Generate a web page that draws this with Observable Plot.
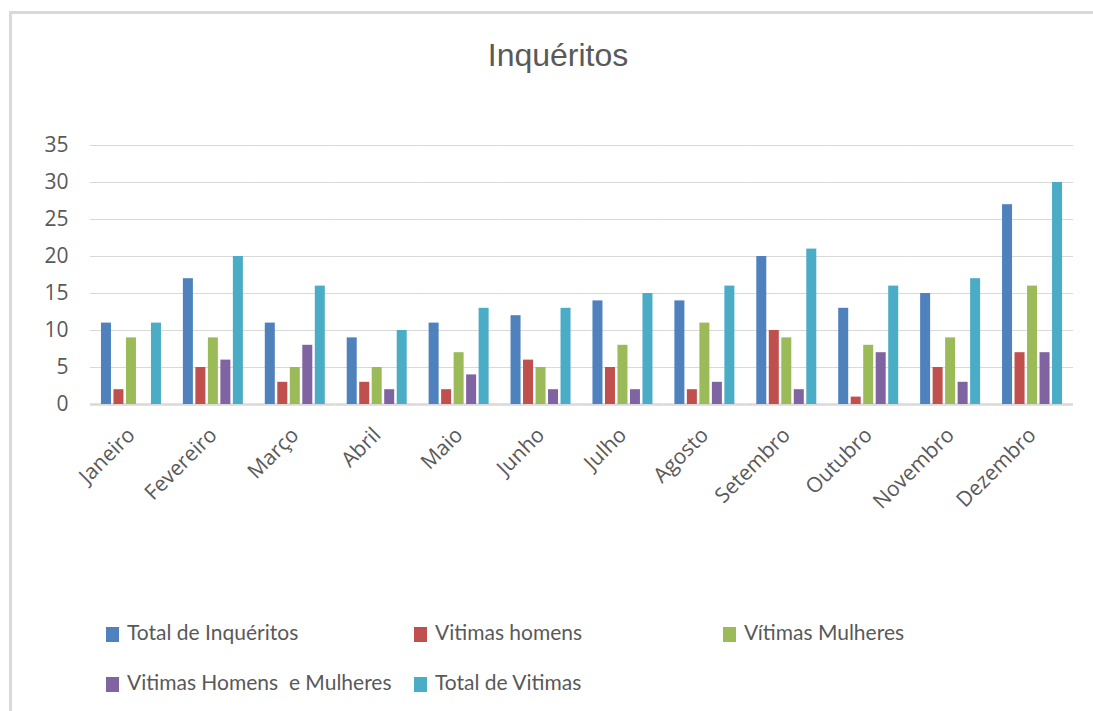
<!DOCTYPE html>
<html>
<head>
<meta charset="utf-8">
<script src="https://cdn.jsdelivr.net/npm/d3@7"></script>
<script src="https://cdn.jsdelivr.net/npm/@observablehq/plot@0.6"></script>
<style>
  html, body { margin: 0; padding: 0; background: #fff; overflow: hidden; }
  #frame { position: absolute; left: 9px; top: 11px; width: 1200px; height: 800px;
           border: 3px solid #d9d9d9; box-sizing: border-box; }
  #chart { position: absolute; left: 0; top: 0; }
  #title { position: absolute; left: 0; top: 39px; width: 1116px; text-align: center;
           font: 32px/32px "Liberation Sans", Arial, sans-serif; color: #595959; }
  .item { position: absolute; height: 21px; }
  .swatch { position: absolute; left: 0; top: 6px; width: 13px; height: 15px; }
  .label { position: absolute; left: 21px; top: 0; white-space: pre;
           font: 21px/21px Lato, "Open Sans", sans-serif; color: #595959; }
</style>
</head>
<body>
<div id="frame"></div>
<div id="chart"></div>
<div id="title">Inquéritos</div>
<div id="legend"></div>
<script>
// Months on the category axis
const months = ["Janeiro", "Fevereiro", "Março", "Abril", "Maio", "Junho",
                "Julho", "Agosto", "Setembro", "Outubro", "Novembro", "Dezembro"];

// Series names, as shown in the legend
const series = ["Total de Inquéritos", "Vitimas homens", "Vítimas Mulheres",
                "Vitimas Homens  e Mulheres", "Total de Vitimas"];

// Monthly values per series
const totalInqueritos       = [11, 17, 11, 9, 11, 12, 14, 14, 20, 13, 15, 27];
const vitimasHomens         = [2, 5, 3, 3, 2, 6, 5, 2, 10, 1, 5, 7];
const vitimasMulheres       = [9, 9, 5, 5, 7, 5, 8, 11, 9, 8, 9, 16];
const vitimasHomensMulheres = [0, 6, 8, 2, 4, 2, 2, 3, 2, 7, 3, 7];
const totalVitimas          = [11, 20, 16, 10, 13, 13, 15, 16, 21, 16, 17, 30];

// Value axis ticks
const yTicks = [0, 5, 10, 15, 20, 25, 30, 35];

// Office palette
const colors = ["#4f81bd", "#c0504d", "#9bbb59", "#8064a2", "#4bacc6"];

const columns = [totalInqueritos, vitimasHomens, vitimasMulheres, vitimasHomensMulheres, totalVitimas];
const data = months.flatMap((m, i) =>
  series.map((s, j) => ({month: m, series: s, value: columns[j][i]})));

const plot = Plot.plot({
  width: 1093,
  height: 560,
  marginLeft: 90,
  marginRight: 20,
  marginTop: 145,
  marginBottom: 156,
  style: {background: "transparent", color: "#595959"},
  fx: {domain: months, padding: 0, round: false, label: null},
  x: {domain: series, paddingInner: 0.2, paddingOuter: 0.877, round: false, axis: null},
  y: {domain: [0, 35], axis: null},
  color: {domain: series, range: colors},
  marks: [
    Plot.ruleY(yTicks.filter(d => d > 0), {stroke: "#d9d9d9", strokeWidth: 1}),
    Plot.ruleY([0], {stroke: "#d9d9d9", strokeWidth: 2.5}),
    Plot.barY(data, {fx: "month", x: "series", y: "value", fill: "series"}),
    Plot.axisY(yTicks, {tickSize: 0, tickPadding: 22, fontSize: 21,
                        fontFamily: "Open Sans", color: "#595959", label: null}),
    Plot.axisFx({anchor: "bottom", tickRotate: -45, tickSize: 0, tickPadding: 27, fontSize: 21,
                 fontFamily: "Open Sans", color: "#595959", label: null})
  ]
});
document.getElementById("chart").append(plot);

// Legend: two rows, three columns
const legend = document.getElementById("legend");
const colX = [106, 414, 723];
const rowTop = [621, 671];
series.forEach((s, i) => {
  const item = document.createElement("div");
  item.className = "item";
  item.style.left = colX[i % 3] + "px";
  item.style.top = rowTop[Math.floor(i / 3)] + "px";
  const sw = document.createElement("div");
  sw.className = "swatch";
  sw.style.background = colors[i];
  const lb = document.createElement("div");
  lb.className = "label";
  lb.textContent = s;
  item.append(sw, lb);
  legend.append(item);
});
</script>
</body>
</html>
